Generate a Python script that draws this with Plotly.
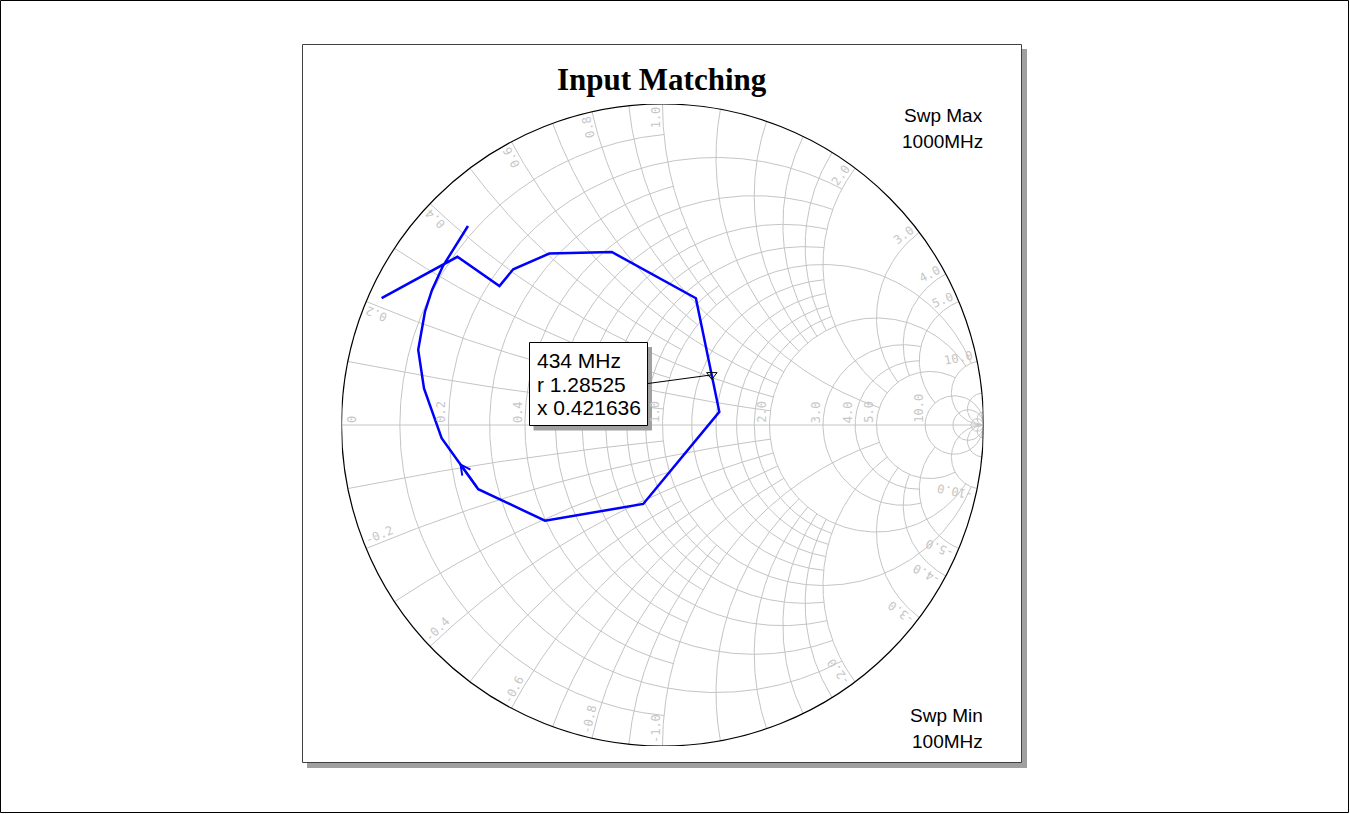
import math
import numpy as np
import plotly.graph_objects as go

# ---------------- canvas / chart geometry ----------------
W, H = 1350, 814
CX, CY, R = 662.5, 425.0, 321.0   # Smith chart centre and radius in px

# ---------------- data ----------------
title_text = "Input Matching"
freq_mhz = [100, 150, 200, 250, 300, 350, 400, 450, 500, 550,
            600, 650, 700, 750, 800, 850, 900, 950, 1000]
s11_re = [-0.875, -0.639, -0.508, -0.465, -0.353, -0.158, 0.104, 0.177, -0.060, -0.366,
          -0.574, -0.688, -0.743, -0.761, -0.740, -0.718, -0.684, -0.643, -0.606]
s11_im = [0.395, 0.524, 0.433, 0.485, 0.534, 0.539, 0.395, 0.041, -0.246, -0.298,
          -0.200, -0.041, 0.114, 0.234, 0.353, 0.421, 0.495, 0.561, 0.620]
marker_freq = 434
marker_r = 1.28525
marker_x = 0.421636
sweep_max_text = ["Swp Max", "1000MHz"]
sweep_min_text = ["Swp Min", "100MHz"]

# Smith grid: constant-r circles with |x| extent, constant-x arcs with r extent (None = full)
grid_r_values = [0.1, 0.2, 0.3, 0.4, 0.5, 0.6, 0.7, 0.8, 0.9, 1.0,
                 1.2, 1.4, 1.6, 1.8, 2.0, 3.0, 4.0, 5.0, 10.0, 20.0, 50.0]
grid_r_limits = [1, 2, 1, 2, 1, 2, 1, 2, 1, 10,
                 2, 2, 2, 2, 10, 5, 5, 10, None, None, None]
grid_x_values = [0.1, 0.2, 0.3, 0.4, 0.5, 0.6, 0.7, 0.8, 0.9, 1.0,
                 1.2, 1.4, 1.6, 1.8, 2.0, 3.0, 4.0, 5.0, 10.0, 20.0, 50.0]
grid_x_limits = [1, 2, 1, 2, 1, 2, 1, 2, 1, 5,
                 2, 2, 2, 2, 5, 5, 5, 10, None, None, None]
axis_label_values = [0, 0.2, 0.4, 1.0, 2.0, 3.0, 4.0, 5.0, 10.0]
edge_label_values = [0.2, 0.4, 0.6, 0.8, 1.0, 2.0, 3.0, 4.0, 5.0, 10.0]

GRID_COLOR = "#c4c4c4"
LABEL_COLOR = "#c6c6c6"
LABEL_FONT = dict(family="DejaVu Sans Mono", size=12, color=LABEL_COLOR)


def gam(z):
    return (z - 1) / (z + 1)


def px_to_data(px, py):
    return (px - CX) / R, (CY - py) / R


def px_to_paper(px, py):
    return px / W, 1 - py / H


# ---------------- grid lines ----------------
gx, gy = [], []
for rv, lim in zip(grid_r_values, grid_r_limits):
    a = math.pi / 2 - 1e-3 if lim is None else math.atan(lim)
    t = np.linspace(-a, a, 500)
    g = gam(rv + 1j * np.tan(t))
    gx += list(g.real) + [None]
    gy += list(g.imag) + [None]
for xv, lim in zip(grid_x_values, grid_x_limits):
    a = math.pi / 2 - 1e-3 if lim is None else math.atan(lim)
    s = np.linspace(0, a, 500)
    for sgn in (1, -1):
        g = gam(np.tan(s) + 1j * sgn * xv)
        gx += list(g.real) + [None]
        gy += list(g.imag) + [None]
# real axis
gx += [-1, 1, None]
gy += [0, 0, None]

fig = go.Figure()
fig.add_trace(go.Scatter(x=gx, y=gy, mode="lines",
                         line=dict(color=GRID_COLOR, width=1),
                         hoverinfo="skip", showlegend=False))

# ---------------- data trace ----------------
fig.add_trace(go.Scatter(x=s11_re, y=s11_im, mode="lines",
                         line=dict(color="#0000ff", width=2.5),
                         customdata=freq_mhz,
                         hovertemplate="%{customdata} MHz<extra></extra>",
                         showlegend=False))

# marker point
mg = gam(complex(marker_r, marker_x))
fig.add_trace(go.Scatter(x=[mg.real], y=[mg.imag], mode="markers",
                         marker=dict(symbol="triangle-down-open", size=9,
                                     color="black", line=dict(width=1)),
                         hoverinfo="skip", showlegend=False))

# ---------------- shapes ----------------
shapes = []
# outer frame of the image
shapes.append(dict(type="rect", xref="paper", yref="paper",
                   x0=0.5 / W, x1=(W - 1.5) / W, y0=1 - (H - 1.5) / H, y1=1 - 0.5 / H,
                   line=dict(color="black", width=1), fillcolor="white", layer="below"))
# panel shadow and panel
sx0, sy0 = px_to_paper(307, 49)
sx1, sy1 = px_to_paper(1027, 768)
shapes.append(dict(type="rect", xref="paper", yref="paper", x0=sx0, x1=sx1, y0=sy1, y1=sy0,
                   line=dict(width=0), fillcolor="#a0a0a0", layer="below"))
px0, py0 = px_to_paper(302.5, 44.5)
px1, py1 = px_to_paper(1021.5, 762.5)
shapes.append(dict(type="rect", xref="paper", yref="paper", x0=px0, x1=px1, y0=py1, y1=py0,
                   line=dict(color="#404040", width=1), fillcolor="white", layer="below"))
# chart boundary circle
shapes.append(dict(type="circle", xref="x", yref="y", x0=-1, x1=1, y0=-1, y1=1,
                   line=dict(color="black", width=1.2), layer="above"))
# marker label box
bx0, by0 = px_to_data(533.5, 347)
bx1, by1 = px_to_data(652, 430.5)
shapes.append(dict(type="rect", xref="x", yref="y", x0=bx0, x1=bx1, y0=by1, y1=by0,
                   line=dict(width=0), fillcolor="#a0a0a0", layer="above"))
bx0, by0 = px_to_data(529.5, 342.5)
bx1, by1 = px_to_data(647.5, 425.5)
shapes.append(dict(type="rect", xref="x", yref="y", x0=bx0, x1=bx1, y0=by1, y1=by0,
                   line=dict(color="black", width=1), fillcolor="white", layer="above"))
cx0, cy0 = px_to_data(648, 383.5)
shapes.append(dict(type="line", xref="x", yref="y", x0=cx0, y0=cy0, x1=mg.real, y1=mg.imag,
                   line=dict(color="black", width=1), layer="above"))

# ---------------- annotations ----------------
ann = []
# title
tx, ty = px_to_paper(661.5, 79.5)
ann.append(dict(text=title_text, x=tx, y=ty, xref="paper", yref="paper",
                xanchor="center", yanchor="middle", showarrow=False,
                font=dict(family="Liberation Serif", size=31, color="black", weight="bold")))
# sweep labels
for txt, pyc in zip(sweep_max_text + sweep_min_text, [115.0, 141.0, 715.0, 741.0]):
    ax_, ay_ = px_to_paper(985.0, pyc)
    ann.append(dict(text=txt, x=ax_, y=ay_, xref="paper", yref="paper",
                    xanchor="right", yanchor="middle", showarrow=False,
                    font=dict(family="Liberation Sans", size=19, color="black")))
# marker readout
mk_lines = [f"{marker_freq} MHz", f"r {marker_r}", f"x {marker_x}"]
for txt, pyc in zip(mk_lines, [360.0, 384.4, 407.7]):
    ax_, ay_ = px_to_paper(535, pyc)
    ann.append(dict(text=txt, x=ax_, y=ay_, xref="paper", yref="paper",
                    xanchor="left", yanchor="middle", showarrow=False,
                    font=dict(family="Liberation Sans", size=21, color="black")))

CW = 0.602 * LABEL_FONT["size"]  # mono char width
GAP = 3.0
OFF = 7.0
# real-axis labels (rotated, reading upward)
for v in axis_label_values:
    txt = "0" if v == 0 else f"{v:.1f}"
    L = len(txt) * CW
    g = (v - 1) / (v + 1)
    xc = g + ((OFF + 4) / R if v == 0 else -OFF / R)
    yc = (2 + L / 2) / R
    ann.append(dict(text=txt, x=xc, y=yc, xref="x", yref="y", xanchor="center",
                    yanchor="middle", textangle=-90, showarrow=False, font=LABEL_FONT))
# edge labels of reactance arcs
for v in edge_label_values:
    for sgn in (1, -1):
        txt = f"{sgn * v:.1f}"
        L = len(txt) * CW
        th = sgn * (math.pi - 2 * math.atan(v))
        ex, ey = math.cos(th), math.sin(th)
        if sgn > 0:
            dx, dy = ex, ey
            cx_ = ex - dx * (GAP + L / 2) / R
            cy_ = ey - dy * (GAP + L / 2) / R
        else:
            dx, dy = -ex, -ey
            cx_ = ex + dx * (GAP + L / 2) / R
            cy_ = ey + dy * (GAP + L / 2) / R
        ux, uy = -dy, dx
        cx_ += ux * OFF / R
        cy_ += uy * OFF / R
        ang = math.degrees(math.atan2(dy, dx))
        ann.append(dict(text=txt, x=cx_, y=cy_, xref="x", yref="y", xanchor="center",
                        yanchor="middle", textangle=-ang, showarrow=False, font=LABEL_FONT))
# direction arrow on the trace
seg = 10
frac = 0.52
hx = s11_re[seg] + frac * (s11_re[seg + 1] - s11_re[seg])
hy = s11_im[seg] + frac * (s11_im[seg + 1] - s11_im[seg])
ann.append(dict(text="", x=hx, y=hy, xref="x", yref="y",
                ax=s11_re[seg], ay=s11_im[seg], axref="x", ayref="y",
                showarrow=True, arrowhead=5, arrowsize=0.9, arrowwidth=2.2,
                arrowcolor="#0000ff"))

fig.update_layout(
    width=W, height=H,
    margin=dict(l=0, r=0, t=0, b=0),
    paper_bgcolor="white", plot_bgcolor="rgba(0,0,0,0)",
    xaxis=dict(domain=[(CX - R) / W, (CX + R) / W], range=[-1, 1], visible=False,
               fixedrange=True),
    yaxis=dict(domain=[1 - (CY + R) / H, 1 - (CY - R) / H], range=[-1, 1], visible=False,
               fixedrange=True),
    shapes=shapes, annotations=ann, showlegend=False,
)

fig.write_html("out.html")
